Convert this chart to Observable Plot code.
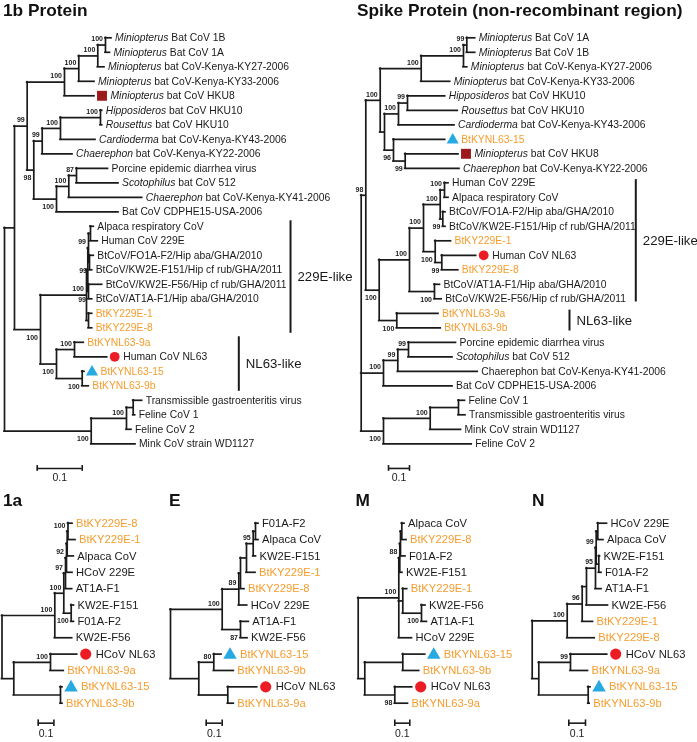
<!DOCTYPE html>
<html><head><meta charset="utf-8">
<script src="https://cdn.jsdelivr.net/npm/d3@7"></script>
<script src="https://cdn.jsdelivr.net/npm/@observablehq/plot@0.6"></script>
<style>
body{margin:0;background:#fff;}
#fig{position:relative;width:697px;height:742px;overflow:hidden;font-family:"Liberation Sans",Arial,sans-serif;background:#fff;}
#fig svg{position:absolute;left:0;top:0;overflow:visible;will-change:transform;}
.ttl{position:absolute;font-weight:bold;font-size:17.3px;line-height:17.3px;color:#111;white-space:nowrap;}
</style></head><body><div id="fig"></div><script>
// ---------------- DATA (trees in Newick; branch lengths = substitutions/site, node labels = bootstrap) ----------------
const tree1b = `((((((('*Miniopterus* Bat CoV 1B':0.0134,'*Miniopterus* Bat CoV 1A':0.01)100:0.0171,'*Miniopterus* bat CoV-Kenya-KY27-2006':0.0149)100:0.0422,'*Miniopterus* bat CoV-Kenya-KY33-2006':0.0349)100:0.0318,'*Miniopterus* bat CoV HKU8':0.0667)100:0.0829,
(((('*Hipposideros* bat CoV HKU10':0.0038,'*Rousettus* bat CoV HKU10':0.0038)100:0.0889,'*Cardioderma* bat CoV-Kenya-KY43-2006':0.0778)100:0.0406,'*Chaerephon* bat CoV-Kenya-KY22-2006':0.0673)99:0.0187,
((('Porcine epidemic diarrhea virus':0.07,'*Scotophilus* bat CoV 512':0.0933)87:0.0171,'*Chaerephon* bat CoV-Kenya-KY41-2006':0.1631)100:0.0273,'Bat CoV CDPHE15-USA-2006':0.1377)100:0.0505)98:0.0147)99:0.0282,
((((('Alpaca respiratory CoV':0.0073,'Human CoV 229E':0.0162):0.0044,('BtCoV/FO1A-F2/Hip aba/GHA/2010':0.0095,'BtCoV/KW2E-F151/Hip cf rub/GHA/2011':0.006)99:0.0022)99:0.0016,('BtCoV/KW2E-F56/Hip cf rub/GHA/2011':0.0304,'BtCoV/AT1A-F1/Hip aba/GHA/2010':0.0082)99:0.0016):0.0029,('BtKY229E-1':0.0082,'BtKY229E-8':0.0082):0.0045)100:0.1022,
(('BtKYNL63-9a':0.0206,'Human CoV NL63':0.0726)100:0.04,('BtKYNL63-15':0.0051,'BtKYNL63-9b':0.0146)100:0.0571)100:0.0356)100:0.0578):0.0222,
((('Transmissible gastroenteritis virus':0.02,'Feline CoV 1':0.0044):0.0149,'Feline CoV 2':0.0111)100:0.0784,'Mink CoV strain WD1127':0.0984)100:0.1927);`;

const treeSpike = `(((((('*Miniopterus* Bat CoV 1A':0.04,'*Miniopterus* Bat CoV 1B':0.04)99:0.0158,'*Miniopterus* bat CoV-Kenya-KY27-2006':0.0181)100:0.2014,'*Miniopterus* bat CoV-Kenya-KY33-2006':0.1381)100:0.1952,
((('*Hipposideros* bat CoV HKU10':0.1795,'*Rousettus* bat CoV HKU10':0.2395)99:0.0429,'*Cardioderma* bat CoV-Kenya-KY43-2006':0.2667)100:0.0666,('BtKYNL63-15':0.2462,('*Miniopterus* bat CoV HKU8':0.2538,'*Chaerephon* bat CoV-Kenya-KY22-2006':0.2586)99:0.0557)96:0.0428):0.0205)100:0.0686,
((((('Human CoV 229E':0.019,'Alpaca respiratory CoV':0.019)100:0.0205,('BtCoV/FO1A-F2/Hip aba/GHA/2010':0.0128,'BtCoV/KW2E-F151/Hip cf rub/GHA/2011':0.0128)99:0.0124)100:0.0795,('BtKY229E-1':0.0752,('Human CoV NL63':0.1638,'BtKY229E-8':0.0786)99:0.0314)100:0.0557)100:0.0667,
('BtCoV/AT1A-F1/Hip aba/GHA/2010':0.0262,'BtCoV/KW2E-F56/Hip cf rub/GHA/2011':0.0343)100:0.119)100:0.1443,('BtKYNL63-9a':0.1986,'BtKYNL63-9b':0.2091)100:0.0838)100:0.0638)98:0.0219,
((('Porcine epidemic diarrhea virus':0.2262,'*Scotophilus* bat CoV 512':0.2096)99:0.0509,'Chaerephon bat CoV-Kenya-KY41-2006':0.3805)99:0.0681,'Bat CoV CDPHE15-USA-2006':0.3286)100:0.1062,
((('Feline CoV 1':0.031,'Transmissible gastroenteritis virus':0.0334):0.1347,'Mink CoV strain WD1127':0.1466)100:0.2224,'Feline CoV 2':0.42)100:0.1062);`;

const tree1a = `((((((('BtKY229E-8':0.0286,'BtKY229E-1':0.0478)100:0.0051,'Alpaca CoV':0.042):0.0045,'HCoV 229E':0.0382)92:0.0063,'AT1A-F1':0.0426)97:0.0109,('KW2E-F151':0.0178,'F01A-F2':0.0178)100:0.0472)100:0.0573,'KW2E-F56':0.1108)100:0.3363,
(('HCoV NL63':0.1701,'BtKYNL63-9a':0.0847)100:0.2337,('BtKYNL63-15':0.0128,'BtKYNL63-9b':0.0128):0.2974):0.0752);`;

const treeE = `((((((('F01A-F2':0.0187,'Alpaca CoV':0.0187):0.0144,'KW2E-F151':0.0175)95:0.0419,'BtKY229E-1':0.0563):0.0375,'BtKY229E-8':0.025):0.0106,'HCoV 229E':0.0525)89:0.1038,('AT1A-F1':0.0519,'KW2E-F56':0.0438)87:0.1144)100:0.3231,
(('BtKYNL63-15':0.0482,'BtKYNL63-9b':0.125)80:0.0937,('HCoV NL63':0.1838,'BtKYNL63-9a':0.0375):0.1812):0.1769);`;

const treeM = `((((('Alpaca CoV':0.018,'BtKY229E-8':0.0313):0.0087,'F01A-F2':0.0333):0.0047,'KW2E-F151':0.018)88:0.0066,('BtKY229E-1':0.0294,('KW2E-F56':0.0267,'AT1A-F1':0.0367)100:0.1247):0.0266,'HCoV 229E':0.088)100:0.2707,
(('BtKYNL63-15':0.1494,'BtKYNL63-9b':0.1094):0.2533,('HCoV NL63':0.116,'BtKYNL63-9a':0.088)98:0.2):0.044);`;

const treeN = `((((((('HCoV 229E':0.0551,'Alpaca CoV':0.0342):0.0096,('KW2E-F151':0.0072,'F01A-F2':0.0162):0.0156)99:0.0042,'AT1A-F1':0.036)95:0.0539,'KW2E-F56':0.1288):0.0257,'BtKY229E-1':0.0647)96:0.0898,'BtKY229E-8':0.1647)100:0.2096,
(('HCoV NL63':0.2198,'BtKYNL63-9a':0.1048)99:0.1898,('BtKYNL63-15':0.0138,'BtKYNL63-9b':0.009):0.2958):0.0395);`;

const panelTitles = ["1b Protein", "Spike Protein (non-recombinant region)", "1a", "E", "M", "N"];
const clades1b = [
  {label: "229E-like", first: "Alpaca respiratory CoV", last: "BtKY229E-8"},
  {label: "NL63-like", first: "BtKYNL63-9a", last: "BtKYNL63-9b"}
];
const cladesSpike = [
  {label: "229E-like", first: "Human CoV 229E", last: "BtCoV/KW2E-F56/Hip cf rub/GHA/2011"},
  {label: "NL63-like", first: "BtKYNL63-9a", last: "BtKYNL63-9b"}
];
const circleTaxa = ["Human CoV NL63", "HCoV NL63"];
const triangleTaxa = ["BtKYNL63-15"];
const squareTaxa = ["*Miniopterus* bat CoV HKU8"];
const scaleBarLength = 0.1;

// ---------------- CODE ----------------
const INK = "#1a1a1a", ORANGE = "#f59d2f", RED = "#ec1c24", BLUE = "#27aae1", DARKRED = "#9c1a1c";

function parseNewick(s) {
  let i = 0;
  const ws = () => { while (i < s.length && /\s/.test(s[i])) i++; };
  function node() {
    ws();
    const n = {children: [], label: "", length: 0, support: null};
    if (s[i] === "(") {
      i++;
      for (;;) {
        n.children.push(node());
        ws();
        if (s[i] === ",") { i++; continue; }
        if (s[i] === ")") { i++; break; }
        throw new Error("bad newick at " + i);
      }
    }
    ws();
    let lab = "";
    if (s[i] === "'") { i++; while (s[i] !== "'") lab += s[i++]; i++; }
    else while (i < s.length && !/[:,();\s]/.test(s[i])) lab += s[i++];
    ws();
    if (s[i] === ":") { i++; ws(); let num = ""; while (i < s.length && /[0-9.eE+-]/.test(s[i])) num += s[i++]; n.length = +num; }
    if (n.children.length) { if (lab) n.support = lab; } else n.label = lab;
    return n;
  }
  return node();
}

function layoutTree(root) {
  const nodes = []; let k = 0;
  (function walk(n, parent) {
    n.parent = parent;
    n.x = parent ? parent.x + n.length : 0;
    n.children.forEach(c => walk(c, n));
    n.y = n.children.length ? (n.children[0].y + n.children[n.children.length - 1].y) / 2 : k++;
    nodes.push(n);
  })(root, null);
  return nodes;
}

function italicize(svg) {
  svg.querySelectorAll("text").forEach(t => {
    const s = t.textContent;
    if (!s.includes("*")) return;
    t.textContent = "";
    s.split("*").forEach((part, i) => {
      if (!part) return;
      const ts = document.createElementNS("http://www.w3.org/2000/svg", "tspan");
      if (i % 2) ts.setAttribute("font-style", "italic");
      ts.textContent = part;
      t.appendChild(ts);
    });
  });
}

function drawPanel(cfg) {
  const root = parseNewick(cfg.newick);
  const nodes = layoutTree(root);
  const leaves = nodes.filter(d => !d.children.length);
  const nonRoot = nodes.filter(d => d.parent);
  const internal = nodes.filter(d => d.children.length);
  const sup = nonRoot.filter(d => d.support);
  const isLower = d => d.parent.children.indexOf(d) === d.parent.children.length - 1;
  const supAbove = sup.filter(d => !isLower(d));
  const supBelow = sup.filter(d => isLower(d));
  const markerOf = name => circleTaxa.includes(name) ? "circle" : triangleTaxa.includes(name) ? "triangle" : squareTaxa.includes(name) ? "square" : null;
  const plain = leaves.filter(d => !markerOf(d.label));
  const marked = leaves.filter(d => markerOf(d.label));
  const colorOf = d => d.label.startsWith("BtKY") ? ORANGE : INK;
  const leafY = name => leaves.find(d => d.label === name).y;
  const bars = (cfg.clades || []).map((c, i) => ({
    label: c.label, x: cfg.cladeX[i],
    y1: leafY(c.first) - cfg.cladePad, y2: leafY(c.last) + cfg.cladePad
  }));
  const n = leaves.length;
  const sw = 1.7;
  const marks = [
    Plot.ruleY(nonRoot, {y: "y", x1: d => d.parent.x, x2: "x", stroke: INK, strokeWidth: sw, strokeLinecap: "square"}),
    Plot.ruleX(internal, {x: "x", y1: d => d.children[0].y, y2: d => d.children[d.children.length - 1].y, stroke: INK, strokeWidth: sw, strokeLinecap: "square"}),
    Plot.text(plain, {x: "x", y: "y", text: "label", dx: 3.5, textAnchor: "start", fill: colorOf, fontSize: cfg.fs}),
    Plot.text(marked, {x: "x", y: "y", text: "label", dx: cfg.mkLabel, textAnchor: "start", fill: colorOf, fontSize: cfg.fs}),
    Plot.dot(marked.filter(d => markerOf(d.label) === "circle"), {x: "x", y: "y", dx: cfg.mkDx, symbol: "circle", r: cfg.rc, fill: RED, stroke: null}),
    Plot.dot(marked.filter(d => markerOf(d.label) === "triangle"), {x: "x", y: "y", dx: cfg.mkDx, dy: 0.8, symbol: "triangle", r: cfg.rt, fill: BLUE, stroke: null}),
    Plot.dot(marked.filter(d => markerOf(d.label) === "square"), {x: "x", y: "y", dx: cfg.mkDx, symbol: "square", r: cfg.rs, fill: DARKRED, stroke: null}),
    Plot.text(supAbove, {x: "x", y: "y", text: "support", dx: -2.5, dy: -6, textAnchor: "end", fontWeight: "bold", fontSize: 7, fill: INK}),
    Plot.text(supBelow, {x: "x", y: "y", text: "support", dx: -2.5, dy: 8, textAnchor: "end", fontWeight: "bold", fontSize: 7, fill: INK}),
    Plot.ruleY([cfg.bar.y], {x1: cfg.bar.x, x2: cfg.bar.x + scaleBarLength, stroke: INK, strokeWidth: 1.6}),
    Plot.ruleX([cfg.bar.x, cfg.bar.x + scaleBarLength], {y1: cfg.bar.y - 0.2, y2: cfg.bar.y + 0.2, stroke: INK, strokeWidth: 1.6}),
    Plot.text([String(scaleBarLength)], {x: cfg.bar.x + scaleBarLength / 2, y: cfg.bar.y, text: d => d, dy: cfg.barDy, fontSize: 10.5, fill: INK}),
    Plot.ruleX(bars, {x: "x", y1: "y1", y2: "y2", stroke: INK, strokeWidth: 2}),
    Plot.text(bars, {x: "x", y: d => (d.y1 + d.y2) / 2, text: "label", dx: 7, textAnchor: "start", fontSize: 13.2, fill: INK})
  ];
  const svg = Plot.plot({
    width: 697, height: 742, margin: 0,
    x: {domain: [0, 1], range: [cfg.root, cfg.root + cfg.ppu], axis: null},
    y: {domain: [0, n - 1], range: [cfg.y0, cfg.y1], axis: null},
    color: {type: "identity"},
    style: {background: "transparent", overflow: "visible", fontFamily: '"Liberation Sans", Arial, sans-serif', maxWidth: "none"},
    marks
  });
  italicize(svg);
  return svg;
}

const topCommon = {y0: 37.3, y1: 443.3, fs: 10.35, mkDx: 7.5, mkLabel: 16, rc: 4.9, rt: 4.5, rs: 5.6, barDy: 9.5};
const botCommon = {y0: 522.7, y1: 702.7, fs: 11.2, mkDx: 8.5, mkLabel: 18.5, rc: 5.6, rt: 5.0, rs: 5.6, barDy: 10.5};
const panels = [
  {...topCommon, newick: tree1b, root: 4, ppu: 450, bar: {x: 0.0727, y: 29.7}, clades: clades1b, cladeX: [0.6356, 0.5207], cladePad: 0.38},
  {...topCommon, newick: treeSpike, root: 360.7, ppu: 210, bar: {x: 0.13, y: 29.7}, clades: cladesSpike, cladeX: [1.3076, 0.9919], cladePad: 0.22},
  {...botCommon, newick: tree1a, root: 1.5, ppu: 157, bar: {x: 0.2306, y: 12.22}},
  {...botCommon, newick: treeE, root: 170, ppu: 160, bar: {x: 0.2231, y: 12.22}},
  {...botCommon, newick: treeM, root: 357.7, ppu: 150, bar: {x: 0.244, y: 12.22}},
  {...botCommon, newick: treeN, root: 531.7, ppu: 167, bar: {x: 0.2192, y: 12.22}}
];
const titlePos = [[3, 1.6], [357, 1.6], [3, 492.3], [169, 492.3], [355.5, 492.3], [532, 492.3]];

const fig = document.getElementById("fig");
panels.forEach(p => fig.appendChild(drawPanel(p)));
panelTitles.forEach((t, i) => {
  const d = document.createElement("div");
  d.className = "ttl";
  d.textContent = t;
  d.style.left = titlePos[i][0] + "px";
  d.style.top = titlePos[i][1] + "px";
  fig.appendChild(d);
});
</script></body></html>
